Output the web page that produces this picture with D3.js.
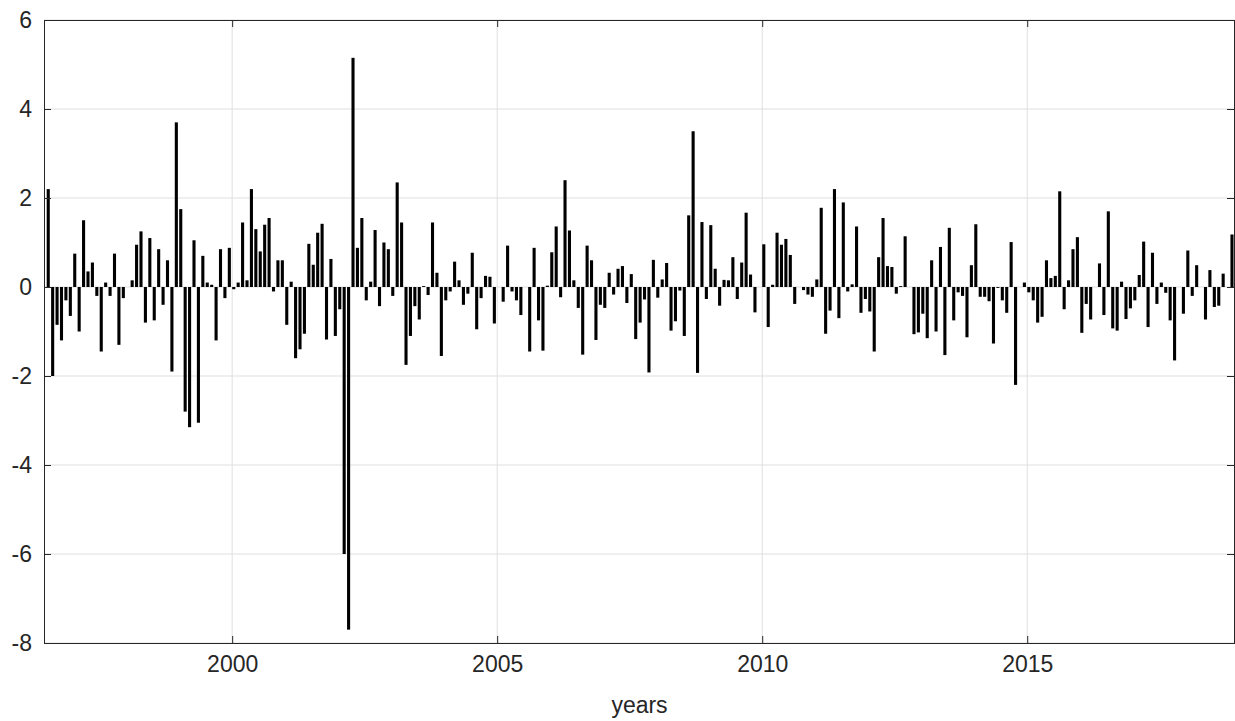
<!DOCTYPE html>
<html>
<head>
<meta charset="utf-8">
<script src="https://cdn.jsdelivr.net/npm/d3@7"></script>
<style>
  body { margin: 0; background: #fff; }
  text { font-family: "Liberation Sans", Arial, sans-serif; }
</style>
</head>
<body>
<svg id="chart"></svg>
<script>
// monthly values, first bar mid-1996
const startYear = 1996.53;
const values = [
  2.2,-2.0,-0.85,-1.2,-0.3,-0.65,0.75,-1.0,1.5,0.35,0.55,-0.2,-1.45,0.1,-0.2,0.75,-1.3,-0.25,0,0.15,0.95,1.25,
  -0.8,1.1,-0.75,0.85,-0.4,0.6,-1.9,3.7,1.75,-2.8,-3.15,1.05,-3.05,0.7,0.1,0.05,-1.2,0.85,-0.25,0.88,-0.05,0.1,
  1.45,0.15,2.2,1.3,0.8,1.4,1.55,-0.1,0.6,0.6,-0.85,0.12,-1.6,-1.4,-1.05,0.97,0.5,1.22,1.42,-1.18,0.63,-1.1,-0.5,
  -6.0,-7.7,5.15,0.88,1.55,-0.3,0.12,1.28,-0.43,1.0,0.85,-0.2,2.35,1.45,-1.75,-1.1,-0.43,-0.73,0.02,-0.18,1.45,0.32,
  -1.55,-0.3,-0.1,0.57,0.15,-0.4,-0.15,0.77,-0.95,-0.25,0.25,0.23,-0.82,0,-0.33,0.93,-0.1,-0.3,-0.63,0,-1.45,0.88,-0.75,
  -1.43,0.03,0.78,1.36,-0.23,2.4,1.27,0.15,-0.47,-1.52,0.93,0.6,-1.19,-0.4,-0.47,0.32,-0.17,0.41,0.47,-0.36,0.29,-1.17,
  -0.8,-0.28,-1.92,0.61,-0.24,0.17,0.54,-0.98,-0.77,-0.08,-1.1,1.61,3.5,-1.93,1.46,-0.27,1.39,0.41,-0.42,0.16,0.15,0.67,
  -0.27,0.55,1.67,0.28,-0.57,0,0.96,-0.9,0.05,1.22,0.95,1.08,0.72,-0.38,0,-0.07,-0.17,-0.22,0.17,1.78,-1.05,-0.53,2.2,
  -0.7,1.9,-0.1,0.06,1.36,-0.58,-0.27,-0.55,-1.45,0.67,1.55,0.47,0.45,-0.15,0.02,1.14,0,-1.06,-1.02,-0.6,-1.15,0.6,-1.0,
  0.9,-1.53,1.33,-0.75,-0.12,-0.2,-1.13,0.49,1.41,-0.22,-0.22,-0.32,-1.27,-0.02,-0.3,-0.58,1.01,-2.2,0,0.1,-0.12,-0.3,-0.8,
  -0.67,0.6,0.2,0.25,2.15,-0.5,0.15,0.85,1.12,-1.03,-0.38,-0.73,0,0.53,-0.63,1.7,-0.93,-0.98,0.12,-0.72,-0.48,-0.3,
  0.27,1.02,-0.9,0.77,-0.38,0.1,-0.13,-0.75,-1.65,0,-0.6,0.82,-0.2,0.49,0,-0.73,0.38,-0.45,-0.42,0.3,0,1.18
];
const xTicks = [2000, 2005, 2010, 2015];
const yTicks = [-8, -6, -4, -2, 0, 2, 4, 6];
const xDomain = [1996.45, 2018.92];
const yDomain = [-8, 6];

const width = 1235, height = 721;
const m = { left: 44, right: 0, top: 20, bottom: 78 };

const svg = d3.select("#chart").attr("width", width).attr("height", height);
const x = d3.scaleLinear().domain(xDomain).range([m.left, width - m.right]);
const y = d3.scaleLinear().domain(yDomain).range([height - m.bottom, m.top]);
const x0 = x.range()[0], x1 = x.range()[1], y0 = y.range()[1], y1 = y.range()[0];

// grid
svg.append("g").selectAll("line").data(yTicks).enter().append("line")
  .attr("x1", x0).attr("x2", x1).attr("y1", d => y(d)).attr("y2", d => y(d))
  .attr("stroke", "#dfdfdf").attr("stroke-width", 1);
svg.append("g").selectAll("line").data(xTicks).enter().append("line")
  .attr("y1", y0).attr("y2", y1).attr("x1", d => x(d)).attr("x2", d => x(d))
  .attr("stroke", "#dfdfdf").attr("stroke-width", 1);

// bars
const barW = (x(startYear + 1 / 12) - x(startYear)) * 0.7;
svg.append("g").selectAll("rect").data(values).enter().append("rect")
  .attr("x", (d, i) => x(startYear + i / 12) - barW / 2)
  .attr("width", barW)
  .attr("y", d => y(Math.max(0, d)))
  .attr("height", d => Math.abs(y(d) - y(0)))
  .attr("fill", "#000");

// axes (ticks inward, box)
const axColor = "#262626";
svg.append("g").attr("transform", `translate(${x0},0)`)
  .call(d3.axisLeft(y).tickValues(yTicks).tickSize(-7).tickPadding(12).tickFormat(d => String(d)));
svg.append("g").attr("transform", `translate(0,${y1})`)
  .call(d3.axisBottom(x).tickValues(xTicks).tickFormat(d => String(d)).tickSize(-7).tickPadding(13));
svg.append("g").attr("transform", `translate(${x1 - 1},0)`)
  .call(d3.axisRight(y).tickValues(yTicks).tickSize(-7).tickFormat(""));
svg.append("g").attr("transform", `translate(0,${y0})`)
  .call(d3.axisTop(x).tickValues(xTicks).tickSize(-7).tickFormat(""));
svg.selectAll(".domain, .tick line").attr("stroke", axColor);
svg.selectAll(".tick text").attr("fill", axColor).style("font-size", "23px")
  .style("font-family", "'Liberation Sans', Arial, sans-serif");

svg.append("text").attr("x", (x0 + x1) / 2).attr("y", 713)
  .attr("text-anchor", "middle").attr("fill", axColor).style("font-size", "23px")
  .text("years");
</script>
</body>
</html>
